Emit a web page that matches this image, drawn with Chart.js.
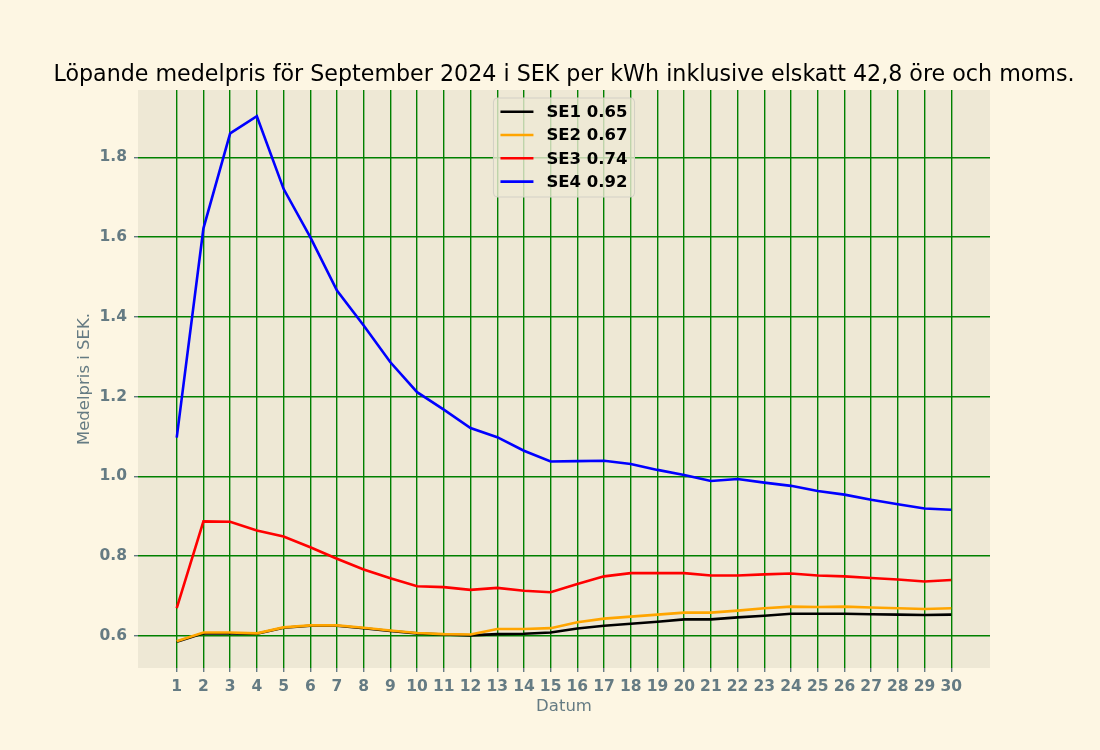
<!DOCTYPE html>
<html>
<head>
<meta charset="utf-8">
<script src="https://cdn.jsdelivr.net/npm/chart.js@4.4.1/dist/chart.umd.min.js"></script>
<style>
  body { margin: 0; background: #fdf6e3; }
  #wrap { width: 1100px; height: 750px; }
</style>
</head>
<body>
<div id="wrap"><canvas id="chartPris"></canvas></div>
<script>
const dagar = [1,2,3,4,5,6,7,8,9,10,11,12,13,14,15,16,17,18,19,20,21,22,23,24,25,26,27,28,29,30];
const se1 = [0.585,0.606,0.606,0.605,0.620,0.625,0.625,0.619,0.612,0.606,0.603,0.601,0.604,0.605,0.608,0.618,0.625,0.630,0.635,0.641,0.641,0.646,0.650,0.655,0.655,0.655,0.654,0.653,0.652,0.653];
const se2 = [0.586,0.608,0.608,0.606,0.621,0.626,0.626,0.620,0.613,0.607,0.604,0.603,0.617,0.617,0.619,0.634,0.643,0.648,0.653,0.658,0.658,0.663,0.669,0.673,0.672,0.673,0.671,0.669,0.667,0.669];
const se3 = [0.669,0.887,0.886,0.864,0.849,0.822,0.793,0.766,0.744,0.724,0.722,0.715,0.720,0.713,0.709,0.730,0.749,0.757,0.757,0.757,0.751,0.751,0.754,0.756,0.751,0.749,0.745,0.741,0.736,0.740];
const se4 = [1.097,1.622,1.860,1.903,1.721,1.600,1.466,1.378,1.286,1.211,1.167,1.121,1.098,1.064,1.037,1.038,1.039,1.031,1.016,1.003,0.988,0.993,0.984,0.976,0.963,0.954,0.941,0.930,0.919,0.916];
const omraden = ['SE1','SE2','SE3','SE4'];
const medel = ['0.65','0.67','0.74','0.92'];
const farger = ['#000000','#ffa500','#ff0000','#0000ff'];
const yTicks = [0.6,0.8,1.0,1.2,1.4,1.6,1.8];
const titel = 'Löpande medelpris för September 2024 i SEK per kWh inklusive elskatt 42,8 öre och moms.';

const serier = [se1, se2, se3, se4];
const alla = serier.flat();
const yMin = Math.min(...alla), yMax = Math.max(...alla);
const yMarg = (yMax - yMin) * 0.05;
const xMarg = (dagar[dagar.length - 1] - dagar[0]) * 0.05;

const textFarg = '#657b83';
const font = 'DejaVu Sans';

const chartEl = document.getElementById('chartPris');
const chart = new Chart(chartEl, {
    type: 'line',
    data: {
        datasets: serier.map((s, i) => ({
            label: omraden[i] + ' ' + medel[i],
            data: dagar.map((d, j) => ({ x: d, y: s[j] })),
            borderColor: farger[i],
            backgroundColor: farger[i],
            borderWidth: 2.6,
            pointRadius: 0,
            tension: 0,
            order: serier.length - i,   // senare serier ritas ovanpå
        }))
    },
    options: {
        responsive: true,
        maintainAspectRatio: false,
        animation: false,
        layout: { padding: { top: 90, left: 72, right: 110, bottom: 30 } },
        plugins: {
            legend: { display: false },
            tooltip: { enabled: false },
        },
        scales: {
            x: {
                type: 'linear',
                min: dagar[0] - xMarg,
                max: dagar[dagar.length - 1] + xMarg,
                afterBuildTicks: s => { s.ticks = dagar.map(v => ({ value: v })); },
                afterFit: s => { s.height = 52; },
                ticks: { color: textFarg, font: { family: font, size: 15.5, weight: 'bold' }, padding: 6, autoSkip: false, maxRotation: 0, callback: v => String(v) },
                grid: { color: '#008000', lineWidth: 1.4, tickColor: textFarg, tickLength: 4 },
                border: { display: false },
                title: { display: true, text: 'Datum', color: textFarg, font: { family: font, size: 16.5 }, padding: { top: 2, bottom: 3 } }
            },
            y: {
                type: 'linear',
                min: yMin - yMarg,
                max: yMax + yMarg,
                afterBuildTicks: s => { s.ticks = yTicks.map(v => ({ value: v })); },
                afterFit: s => { s.width = 66; },
                ticks: { color: textFarg, font: { family: font, size: 15.5, weight: 'bold' }, padding: 7, callback: v => v.toFixed(1) },
                grid: { color: '#008000', lineWidth: 1.4, tickColor: textFarg, tickLength: 4 },
                border: { display: false },
                title: { display: true, text: 'Medelpris i SEK.', color: textFarg, font: { family: font, size: 16.5 }, padding: { top: 3, bottom: 4 } }
            }
        }
    },
    plugins: [{
        id: 'bakgrund',
        beforeDraw(chart) {
            const { ctx, chartArea: a } = chart;
            ctx.save();
            ctx.fillStyle = '#eee8d5';
            ctx.fillRect(a.left, a.top, a.right - a.left, a.bottom - a.top);
            ctx.restore();
        }
    }, {
        id: 'rubrikOchLegend',
        afterDraw(chart) {
            const { ctx, chartArea: a } = chart;
            const mitt = (a.left + a.right) / 2;
            ctx.save();
            // rubrik
            ctx.fillStyle = '#000000';
            ctx.font = '22.2px "DejaVu Sans"';
            ctx.textAlign = 'center';
            ctx.textBaseline = 'middle';
            ctx.fillText(titel, mitt, 75);

            // legend
            ctx.font = 'bold 16.5px "DejaVu Sans"';
            const etiketter = chart.data.datasets.map(d => d.label);
            const tw = Math.max(...etiketter.map(t => ctx.measureText(t).width));
            const linje = 33, gap = 13, pad = 7, rad = 23.3;
            const w = pad + linje + gap + tw + pad;
            const h = 99;
            const x0 = mitt - w / 2, y0 = a.top + 8;
            ctx.beginPath();
            ctx.roundRect(x0, y0, w, h, 4);
            ctx.fillStyle = 'rgba(238,232,213,0.8)';
            ctx.fill();
            ctx.strokeStyle = '#d3d0c6';
            ctx.lineWidth = 1;
            ctx.stroke();
            ctx.textAlign = 'left';
            etiketter.forEach((t, i) => {
                const yy = y0 + 13.7 + i * rad;
                ctx.strokeStyle = chart.data.datasets[i].borderColor;
                ctx.lineWidth = 2.6;
                ctx.beginPath();
                ctx.moveTo(x0 + pad, yy);
                ctx.lineTo(x0 + pad + linje, yy);
                ctx.stroke();
                ctx.fillStyle = '#000000';
                ctx.fillText(t, x0 + pad + linje + gap, yy + 1);
            });
            ctx.restore();
        }
    }]
});
</script>
</body>
</html>
